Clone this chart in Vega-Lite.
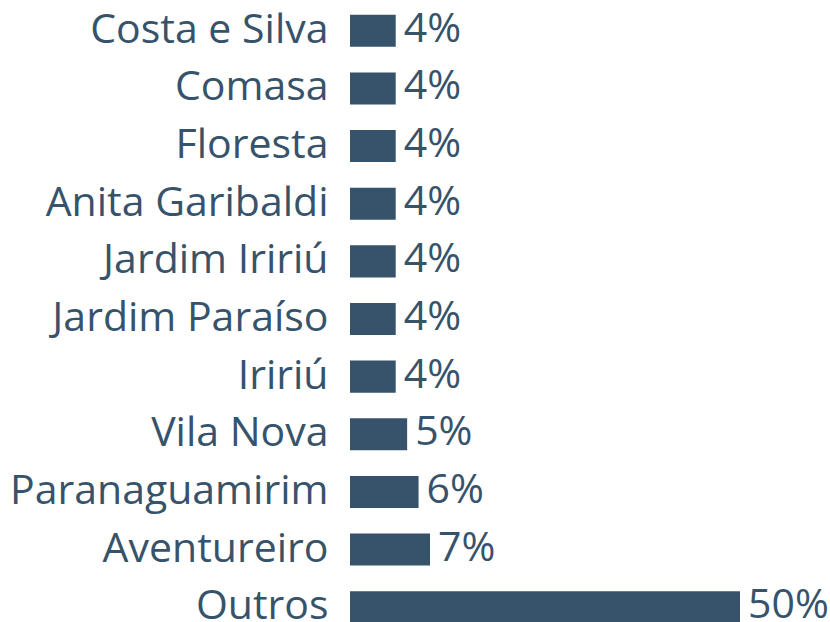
{
  "$schema": "https://vega.github.io/schema/vega-lite/v6.json",
  "autosize": {"type": "none"},
  "width": 390,
  "height": 634,
  "padding": {"left": 350, "top": 2, "right": 90, "bottom": 0},
  "background": "white",
  "config": {"view": {"stroke": null}, "font": "Open Sans"},
  "data": {
    "values": [
      {"bairro": "Costa e Silva", "pct": 0.04},
      {"bairro": "Comasa", "pct": 0.04},
      {"bairro": "Floresta", "pct": 0.04},
      {"bairro": "Anita Garibaldi", "pct": 0.04},
      {"bairro": "Jardim Iririú", "pct": 0.04},
      {"bairro": "Jardim Paraíso", "pct": 0.04},
      {"bairro": "Iririú", "pct": 0.04},
      {"bairro": "Vila Nova", "pct": 0.05},
      {"bairro": "Paranaguamirim", "pct": 0.06},
      {"bairro": "Aventureiro", "pct": 0.07},
      {"bairro": "Outros", "pct": 0.5}
    ]
  },
  "encoding": {
    "y": {
      "field": "bairro",
      "type": "nominal",
      "sort": null,
      "scale": {"paddingInner": 0.444, "paddingOuter": 0.222},
      "axis": {
        "title": null,
        "domain": false,
        "ticks": false,
        "labelPadding": 22,
        "labelFontSize": 41,
        "labelColor": "#37536b",
        "labelFont": "Open Sans",
        "labelLimit": 400
      }
    },
    "x": {
      "field": "pct",
      "type": "quantitative",
      "scale": {"domain": [0, 0.07, 0.5], "range": [0, 80, 390], "nice": false, "zero": true},
      "axis": null
    }
  },
  "layer": [
    {"mark": {"type": "bar", "color": "#37536b"}},
    {
      "mark": {"type": "text", "align": "left", "baseline": "middle", "dx": 8, "dy": -1, "fontSize": 41, "color": "#37536b", "font": "Open Sans"},
      "encoding": {"text": {"field": "pct", "type": "quantitative", "format": ".0%"}}
    }
  ]
}
